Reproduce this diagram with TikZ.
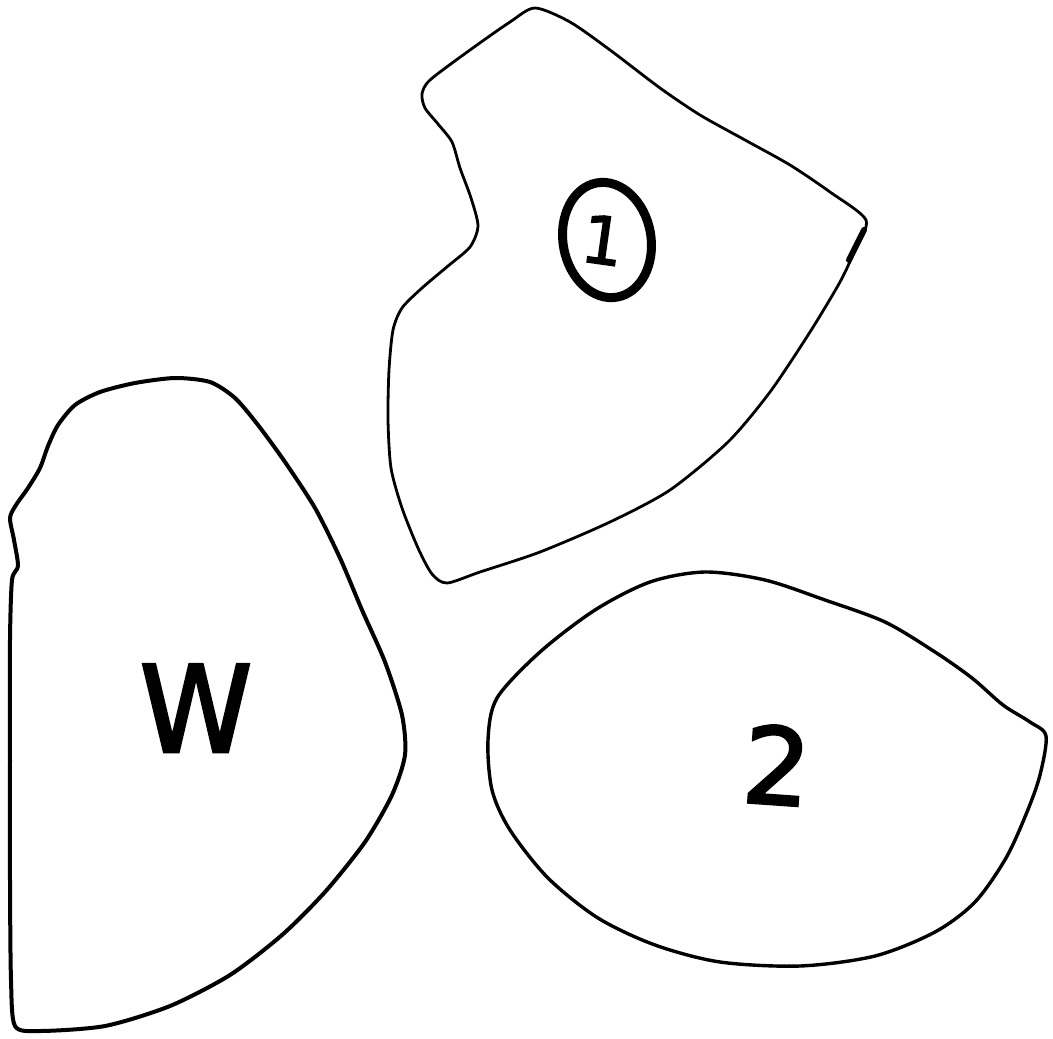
\documentclass[tikz,border=0pt]{standalone}
\usepackage{fontspec}
\setmainfont{DejaVu Sans}
\usetikzlibrary{shapes.geometric}
\begin{document}
\begin{tikzpicture}[x=1pt,y=-1pt,
  outline/.style={draw=black,line join=round,line cap=round},
  lbl/.style={inner sep=0pt}]
\useasboundingbox (0,0) rectangle (1053,1039);
% piece 1 (top)
\draw[outline,line width=2.8pt] plot[smooth cycle,tension=0.45] coordinates {
 (430,80) (470,50) (510,22) (535,8) (570,22) (610,50) (660,88) (700,115)
 (745,140) (790,165) (830,192) (866,220) (855,250) (840,282) (810,332)
 (770,392) (728,442) (670,490) (610,522) (540,552) (480,572) (447,583)
 (432,574) (418,548) (402,508) (391,468) (388,420) (389,370) (393,330)
 (402,308) (422,288) (448,266) (470,247) (478,226) (471,198) (460,168)
 (452,142) (438,124) (425,108) (422,94)};
\draw[line width=6pt,line cap=round] (864,230) -- (849,260);
% piece 3 (left)
\draw[outline,line width=4pt] plot[smooth cycle,tension=0.45] coordinates {
 (16,505) (28,488) (40,468) (48,446) (58,425) (75,405) (100,392) (135,383)
 (175,378) (210,382) (235,398) (258,425) (285,462) (315,508) (340,558)
 (362,610) (385,662) (402,715) (405,755) (392,795) (365,842) (325,892)
 (282,935) (230,975) (170,1006) (105,1026) (40,1031) (15,1026) (11,980)
 (10,880) (10,760) (10,640) (12,580) (18,566) (14,540) (10,518)};
% piece 2 (lower right)
\draw[outline,line width=3.4pt] plot[smooth cycle,tension=0.5] coordinates {
 (497,698) (540,652) (595,610) (650,582) (705,572) (765,580) (825,600)
 (885,622) (935,652) (972,678) (1003,705) (1030,722) (1046,736)
 (1040,775) (1027,812) (1006,858) (975,902) (935,932) (875,956) (800,966)
 (720,962) (655,945) (598,918) (548,878) (510,830) (492,790) (488,740)};
% labels
\node[draw,ellipse,line width=9pt,minimum width=88pt,minimum height=116pt,rotate=10,inner sep=0pt] (e1) at (607,240) {};
\node[lbl,font=\fontsize{66}{66}\selectfont\addfontfeature{FakeBold=2},rotate=-8] (t1) at (603,240) {1};
\node[lbl,font=\fontsize{120}{120}\selectfont\addfontfeature{FakeBold=2.5},xscale=0.95] (t3) at (196,708) {W};
\node[lbl,font=\fontsize{106}{106}\selectfont\addfontfeature{FakeBold=2.5},rotate=-4] (t2) at (777,765) {2};
\end{tikzpicture}
\end{document}
